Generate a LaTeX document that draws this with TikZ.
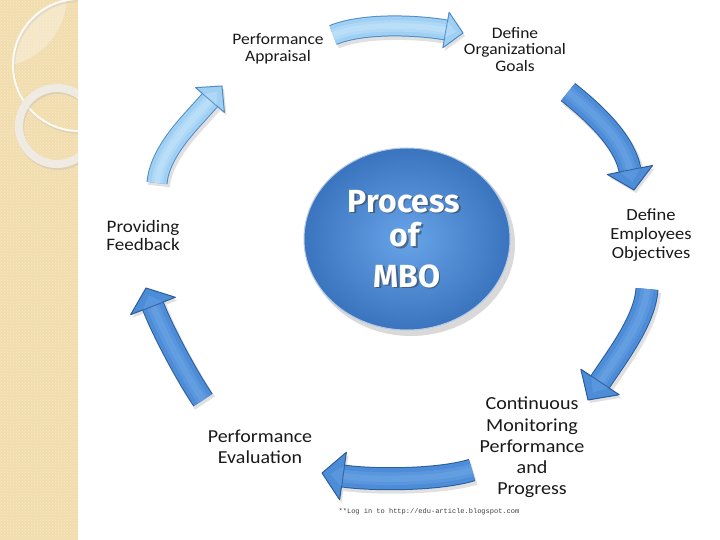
\documentclass[tikz,border=0pt]{standalone}
\usepackage{fontspec}
\setmainfont{Carlito}
\newfontfamily\labfont[FakeStretch=1.09]{Carlito}
\newfontfamily\mbofont{Fira Sans}
\newfontfamily\footfont{Liberation Mono}
\usetikzlibrary{calc,patterns,shapes.geometric}
\definecolor{strip}{HTML}{F1DCAE}
\definecolor{stripdot}{HTML}{F8EACB}
\definecolor{ringc}{HTML}{EFEBE3}
\definecolor{ltFill}{HTML}{9FD0F4}
\definecolor{ltEdge}{HTML}{4F8CC6}
\definecolor{ltHi}{HTML}{D2ECFC}
\definecolor{mdFill}{HTML}{4D8DD8}
\definecolor{mdEdge}{HTML}{2B5C9C}
\definecolor{mdHi}{HTML}{78AEEA}
\definecolor{mboIn}{HTML}{68A4E8}
\definecolor{mboOut}{HTML}{3A74BE}
\newcommand{\mbarrow}[7]{%
  \draw[line width=#5+3, draw=black, opacity=0.12, transform canvas={shift={(2pt,-3pt)}}]
    (#1) .. controls (#2) and ($(#3)!-1.5!(#4)$) .. (#3);
  \fill[black, opacity=0.12, transform canvas={shift={(2pt,-3pt)}}]
    ($(#3)!#6pt!90:(#4)$) -- (#4) -- ($(#3)!#6pt!-90:(#4)$) -- cycle;
  \draw[line width=#5+2, draw=#7Edge] (#1) .. controls (#2) and ($(#3)!-1.5!(#4)$) .. (#3);
  \draw[line width=#5, draw=#7Fill] (#1) .. controls (#2) and ($(#3)!-1.5!(#4)$) .. (#3);
  \draw[line width=#5*0.6, draw=#7Hi, opacity=0.3] (#1) .. controls (#2) and ($(#3)!-1.5!(#4)$) .. (#3);
  \draw[line width=#5*0.3, draw=#7Hi, opacity=0.35] (#1) .. controls (#2) and ($(#3)!-1.5!(#4)$) .. (#3);
  \filldraw[fill=#7Fill, draw=#7Edge, line width=1, line join=round]
    ($(#3)!#6pt!90:(#4)$) -- (#4) -- ($(#3)!#6pt!-90:(#4)$) -- cycle;
  \fill[#7Hi, opacity=0.3]
    ($(#3)!0.45*#6pt!90:(#4)$) -- ($(#3)!0.6!(#4)$) -- ($(#3)!0.45*#6pt!-90:(#4)$) -- cycle;
}
\begin{document}
\begin{tikzpicture}[x=1pt,y=-1pt,
  lab/.style={font=\labfont, align=center, inner sep=0pt, text=black!90},
  mbotxt/.style={font=\mbofont\bfseries\fontsize{32}{32}\selectfont, text=white, anchor=base, inner sep=0pt},
  mboshd/.style={mbotxt, text=black!80, opacity=0.5}]
\useasboundingbox (0,0) rectangle (720,540);
\fill[white] (0,0) rectangle (720,540);
% left decorative strip
\fill[strip] (0,0) rectangle (78,540);
\fill[pattern=crosshatch dots, pattern color=stripdot] (0,0) rectangle (78,540);
\begin{scope}
  \clip (0,0) rectangle (78,540);
  \begin{scope}
    \clip (79,65) circle[radius=66];
    \fill[white, opacity=0.3] (-5,-5) circle[radius=72];
  \end{scope}
  \draw[black!25, opacity=0.35, line width=2] (80,67) circle[radius=66];
  \draw[white!85!strip, line width=2] (79,65) circle[radius=66];
  \draw[black!30, opacity=0.3, line width=8] (58,128) circle[radius=38];
  \draw[ringc, line width=8] (57,126) circle[radius=38];
\end{scope}
% central circle
\fill[black, opacity=0.15] (411,244) ellipse[x radius=104, y radius=92];
\node[ellipse, minimum width=206, minimum height=182, inner color=mboIn, outer color=mboOut,
      draw=white!60!mboOut, line width=1] (mbo) at (407,239) {};
\node[mboshd] at (405.5,213.5) {Process};
\node[mboshd] at (406.5,248.5) {of};
\node[mboshd] at (408.5,288.5) {MBO};
\node[mbotxt] (t1) at (404,212) {Process};
\node[mbotxt] (t2) at (405,247) {of};
\node[mbotxt] (t3) at (407,287) {MBO};
% arrow coordinates
\coordinate (a1t) at (333,35);  \coordinate (a1c) at (365,22);  \coordinate (a1b) at (446,30);  \coordinate (a1p) at (463,33);
\coordinate (a2t) at (568,92);  \coordinate (a2c) at (593,112); \coordinate (a2b) at (630,170); \coordinate (a2p) at (634,190);
\coordinate (a3t) at (647,289); \coordinate (a3c) at (645,320); \coordinate (a3b) at (600,382); \coordinate (a3p) at (588,400);
\coordinate (a4t) at (472,470); \coordinate (a4c) at (440,480); \coordinate (a4b) at (343,476); \coordinate (a4p) at (322,473);
\coordinate (a5t) at (203,400); \coordinate (a5c) at (188,378); \coordinate (a5b) at (153,306); \coordinate (a5p) at (146,288);
\coordinate (a6t) at (157,183); \coordinate (a6c) at (160,150); \coordinate (a6b) at (210,100); \coordinate (a6p) at (222,86);
\mbarrow{a1t}{a1c}{a1b}{a1p}{19}{18}{lt}
\mbarrow{a2t}{a2c}{a2b}{a2p}{21}{23}{md}
\mbarrow{a3t}{a3c}{a3b}{a3p}{21}{23}{md}
\mbarrow{a4t}{a4c}{a4b}{a4p}{21}{24}{md}
\mbarrow{a5t}{a5c}{a5b}{a5p}{21}{24}{md}
\mbarrow{a6t}{a6c}{a6b}{a6p}{19}{19}{lt}
% labels
\node[lab, font=\labfont\fontsize{16}{16.5}\selectfont] (appr) at (278,49) {Performance\\Appraisal};
\node[lab, font=\labfont\fontsize{16}{16.5}\selectfont] (goals) at (515,49.5) {Define\\Organizational\\Goals};
\node[lab, font=\labfont\fontsize{17}{19}\selectfont] (emp) at (651,235) {Define\\Employees\\Objectives};
\node[lab, font=\labfont\fontsize{18.4}{21.2}\selectfont] (mon) at (532,447.5) {Continuous\\Monitoring\\Performance\\and\\Progress};
\node[lab, font=\labfont\fontsize{18.3}{21}\selectfont] (eval) at (260,446.5) {Performance\\Evaluation};
\node[lab, font=\labfont\fontsize{17.5}{17.5}\selectfont] (feed) at (143,235.5) {Providing\\Feedback};
\node[font=\footfont\fontsize{7}{8}\selectfont, text=black!75, inner sep=0pt] (foot) at (429,512) {**Log in to http://edu-article.blogspot.com};
\end{tikzpicture}
\end{document}
